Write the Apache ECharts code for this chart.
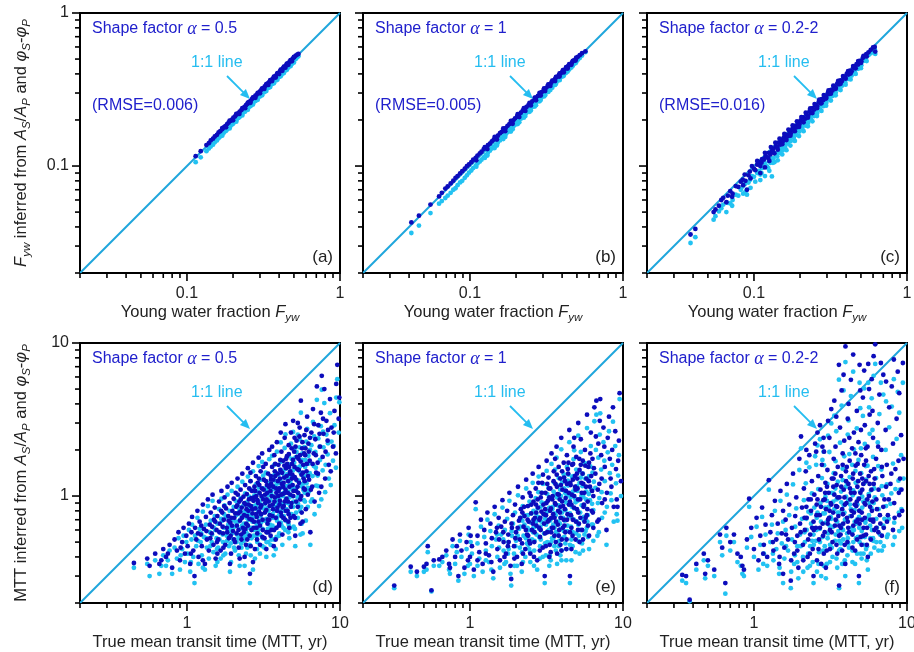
<!DOCTYPE html>
<html><head><meta charset="utf-8">
<script src="https://cdn.jsdelivr.net/npm/echarts/dist/echarts.min.js"></script>
<style>html,body{margin:0;padding:0;background:#fff}#c{width:914px;height:652px}</style>
</head><body><div id="c"></div>
<script>
// ---------------- data ----------------
// each sample: [true value, inferred from A_S/A_P (dark blue), inferred from phi_S-phi_P (cyan)]
const fywRange = [0.02, 1];
const mttRange = [0.2, 10];
const fywMajorTicks = [0.1, 1];
const fywMinorTicks = [0.02,0.03,0.04,0.05,0.06,0.07,0.08,0.09,0.2,0.3,0.4,0.5,0.6,0.7,0.8,0.9];
const mttMajorTicks = [1, 10];
const mttMinorTicks = [0.2,0.3,0.4,0.5,0.6,0.7,0.8,0.9,2,3,4,5,6,7,8,9];
const shapeFactors = ['0.5', '1', '0.2-2'];
const rmseLabels = ['0.006', '0.005', '0.016'];
const panelLetters = [['(a)','(b)','(c)'],['(d)','(e)','(f)']];

const fywAlpha05 = [
[0.114,0.116,0.106],[0.123,0.125,0.114],[0.134,0.137,0.125],[0.139,0.141,0.130],[0.143,0.147,0.134],
[0.148,0.151,0.138],[0.152,0.156,0.143],[0.157,0.160,0.147],[0.161,0.166,0.152],[0.165,0.169,0.156],
[0.170,0.174,0.160],[0.174,0.179,0.165],[0.178,0.182,0.169],[0.183,0.188,0.173],[0.187,0.192,0.178],
[0.192,0.197,0.182],[0.197,0.201,0.187],[0.201,0.207,0.191],[0.206,0.211,0.196],[0.211,0.217,0.201],
[0.216,0.221,0.206],[0.221,0.227,0.211],[0.227,0.232,0.216],[0.232,0.239,0.222],[0.238,0.243,0.227],
[0.243,0.250,0.233],[0.249,0.255,0.238],[0.255,0.262,0.244],[0.261,0.267,0.250],[0.267,0.275,0.256],
[0.273,0.280,0.262],[0.280,0.288,0.268],[0.286,0.293,0.275],[0.293,0.301,0.281],[0.300,0.307,0.288],
[0.307,0.316,0.295],[0.314,0.322,0.302],[0.322,0.331,0.310],[0.329,0.337,0.317],[0.337,0.347,0.325],
[0.345,0.353,0.333],[0.353,0.363,0.341],[0.362,0.370,0.349],[0.370,0.380,0.358],[0.379,0.388,0.366],
[0.388,0.399,0.375],[0.397,0.406,0.385],[0.407,0.418,0.394],[0.416,0.426,0.403],[0.426,0.438,0.413],
[0.436,0.446,0.423],[0.447,0.459,0.434],[0.457,0.468,0.444],[0.468,0.481,0.455],[0.479,0.490,0.466],
[0.491,0.504,0.478],[0.502,0.513,0.489],[0.514,0.527,0.501],[0.526,0.535,0.513],[0.535,0.540,0.522],
[0.170,0.177,0.158],[0.190,0.198,0.176],[0.210,0.219,0.195],[0.230,0.239,0.214],[0.250,0.260,0.233],
[0.270,0.281,0.252],[0.290,0.301,0.271],[0.310,0.322,0.290],[0.330,0.343,0.309],[0.350,0.364,0.328],
[0.370,0.384,0.347],[0.390,0.405,0.366],[0.410,0.426,0.386],[0.430,0.446,0.405],[0.450,0.467,0.425],
[0.475,0.492,0.449],[0.500,0.517,0.474],
[0.180,0.179,0.170],[0.200,0.199,0.189],[0.220,0.219,0.208],[0.240,0.239,0.227],[0.260,0.259,0.246],
[0.280,0.279,0.266],[0.300,0.299,0.285],[0.320,0.319,0.304],[0.340,0.339,0.324],[0.360,0.359,0.343],
[0.380,0.379,0.362],[0.400,0.399,0.382],[0.420,0.419,0.401],[0.440,0.439,0.421],[0.460,0.459,0.440],
[0.485,0.484,0.465]
];
const fywAlpha1 = [
[0.0414,0.0428,0.0365],[0.0464,0.0474,0.0408],[0.0552,0.0560,0.0493],[0.0628,0.0633,0.0568],[0.0655,0.0668,0.0590],
[0.0690,0.0712,0.0618],[0.0715,0.0735,0.0640],[0.0748,0.0770,0.0668],[0.0778,0.0802,0.0700],[0.0805,0.0838,0.0716],
[0.0830,0.0860,0.0750],[0.0862,0.0895,0.0781],[0.0890,0.0925,0.0800],[0.0925,0.0960,0.0838],[0.0955,0.0998,0.0870],
[0.0985,0.1025,0.0905],[0.102,0.106,0.0935],[0.105,0.110,0.0970],[0.109,0.113,0.1005],[0.112,0.117,0.104],
[0.116,0.121,0.107],[0.119,0.124,0.110],[0.123,0.129,0.114],[0.127,0.132,0.118],[0.131,0.137,0.122],
[0.135,0.140,0.126],[0.139,0.145,0.130],[0.143,0.149,0.134],[0.148,0.154,0.138],[0.152,0.158,0.142],
[0.157,0.164,0.147],[0.161,0.167,0.151],[0.166,0.173,0.156],[0.171,0.177,0.161],[0.176,0.183,0.166],
[0.181,0.188,0.170],[0.186,0.194,0.176],[0.192,0.199,0.181],[0.197,0.205,0.186],[0.203,0.210,0.192],
[0.209,0.217,0.198],[0.215,0.223,0.204],[0.221,0.230,0.210],[0.228,0.236,0.216],[0.234,0.243,0.223],
[0.241,0.250,0.229],[0.248,0.257,0.236],[0.255,0.264,0.243],[0.263,0.272,0.251],[0.270,0.280,0.258],
[0.278,0.287,0.266],[0.286,0.296,0.274],[0.294,0.304,0.282],[0.303,0.313,0.291],[0.312,0.322,0.300],
[0.321,0.331,0.309],[0.330,0.341,0.318],[0.340,0.350,0.328],[0.350,0.361,0.338],[0.360,0.371,0.348],
[0.370,0.382,0.358],[0.381,0.392,0.369],[0.392,0.404,0.380],[0.403,0.414,0.391],[0.415,0.427,0.403],
[0.427,0.438,0.415],[0.439,0.451,0.427],[0.452,0.463,0.440],[0.465,0.476,0.453],[0.479,0.490,0.466],
[0.493,0.503,0.480],[0.507,0.517,0.494],[0.522,0.530,0.508],[0.540,0.546,0.527],[0.568,0.562,0.555],
[0.125,0.133,0.113],[0.145,0.155,0.131],[0.165,0.176,0.150],[0.185,0.197,0.168],[0.205,0.218,0.188],
[0.225,0.239,0.207],[0.245,0.259,0.226],[0.265,0.280,0.245],[0.285,0.301,0.265],[0.305,0.321,0.285],
[0.325,0.342,0.305],[0.345,0.362,0.325],[0.365,0.383,0.345],[0.385,0.403,0.366],[0.405,0.423,0.386],
[0.425,0.443,0.407],[0.445,0.463,0.428],[0.470,0.487,0.452],[0.495,0.511,0.478],
[0.110,0.109,0.099],[0.130,0.129,0.117],[0.150,0.149,0.136],[0.170,0.169,0.155],[0.190,0.189,0.174],
[0.210,0.209,0.193],[0.230,0.229,0.212],[0.250,0.249,0.231],[0.270,0.269,0.250],[0.290,0.289,0.270],
[0.310,0.309,0.290],[0.335,0.334,0.314],[0.360,0.359,0.339],[0.385,0.384,0.364],[0.410,0.409,0.389],
[0.435,0.434,0.414],[0.460,0.459,0.440],[0.490,0.489,0.470]
];
const fywAlpha02to2 = [
[0.0385,0.0357,0.0314],[0.0414,0.0388,0.0343],[0.0545,0.0500,0.0446],[0.0560,0.0520,0.0470],[0.0590,0.0550,0.0505],
[0.0612,0.0600,0.0530],[0.0630,0.0620,0.0560],[0.0675,0.0640,0.0575],[0.0700,0.0685,0.0570],[0.0725,0.0660,0.0600],
[0.0760,0.0740,0.0650],[0.0790,0.0730,0.0640],[0.0820,0.0790,0.0700],[0.0845,0.0815,0.0735],[0.0870,0.0880,0.0760],
[0.0880,0.0800,0.0680],[0.0900,0.0700,0.0650],[0.0920,0.0870,0.0780],[0.0940,0.0920,0.0810],[0.0970,0.1000,0.0860],
[0.1000,0.0960,0.0850],[0.1020,0.0940,0.0790],[0.1050,0.1020,0.0900],[0.1080,0.1060,0.0930],[0.1100,0.1000,0.0880],
[0.1130,0.1110,0.0970],[0.1160,0.1100,0.0990],[0.1190,0.1160,0.1010],[0.1220,0.1140,0.0990],[0.1250,0.1220,0.1080],
[0.1280,0.1190,0.1050],[0.1310,0.1250,0.0855],[0.1340,0.1300,0.1120],[0.1360,0.1210,0.1060],[0.1390,0.1350,0.1180],
[0.1420,0.1320,0.1160],[0.1450,0.1420,0.1240],[0.1480,0.1380,0.1220],[0.1510,0.1470,0.1300],[0.1540,0.1440,0.1270],
[0.1570,0.1540,0.1350],[0.1600,0.1500,0.1330],[0.1640,0.1600,0.1420],[0.1670,0.1570,0.1400],[0.1710,0.1680,0.1490],
[0.1740,0.1640,0.1460],[0.1780,0.1740,0.1560],[0.1820,0.1720,0.1530],[0.1860,0.1830,0.1640],[0.1900,0.1790,0.1600],
[0.1940,0.1910,0.1710],[0.1980,0.1870,0.1680],[0.2020,0.1990,0.1790],[0.2070,0.1950,0.1750],[0.2110,0.2080,0.1870],
[0.2160,0.2040,0.1840],[0.2210,0.2180,0.1960],[0.2260,0.2130,0.1920],[0.2310,0.2280,0.2060],[0.2360,0.2230,0.2020],
[0.2420,0.2390,0.2170],[0.2470,0.2340,0.2120],[0.2530,0.2500,0.2280],[0.2590,0.2450,0.2220],[0.2650,0.2620,0.2390],
[0.2710,0.2570,0.2340],[0.2770,0.2740,0.2510],[0.2840,0.2700,0.2460],[0.2900,0.2870,0.2640],[0.2970,0.2830,0.2590],
[0.3040,0.3000,0.2780],[0.3110,0.2960,0.2720],[0.3190,0.3150,0.2920],[0.3260,0.3110,0.2870],[0.3340,0.3300,0.3070],
[0.3420,0.3260,0.3020],[0.3500,0.3460,0.3230],[0.3590,0.3420,0.3180],[0.3670,0.3630,0.3400],[0.3760,0.3590,0.3350],
[0.3850,0.3810,0.3570],[0.3950,0.3770,0.3520],[0.4040,0.4000,0.3760],[0.4140,0.3960,0.3710],[0.4240,0.4200,0.3950],
[0.4350,0.4160,0.3900],[0.4450,0.4410,0.4160],[0.4560,0.4370,0.4110],[0.4680,0.4630,0.4380],[0.4790,0.4600,0.4320],
[0.4910,0.4870,0.4610],[0.5030,0.4830,0.4560],[0.5150,0.5100,0.4850],[0.5280,0.5220,0.4980],[0.5420,0.5380,0.5150],
[0.5600,0.5530,0.5300],[0.6150,0.6000,0.5800],[0.6200,0.5600,0.5400],
[0.105,0.108,0.092],[0.112,0.105,0.090],[0.118,0.122,0.104],[0.124,0.113,0.097],[0.129,0.133,0.112],
[0.133,0.124,0.105],[0.138,0.142,0.121],[0.143,0.128,0.109],[0.147,0.151,0.130],[0.153,0.139,0.119],
[0.158,0.162,0.140],[0.163,0.148,0.127],[0.168,0.173,0.150],[0.173,0.158,0.136],[0.179,0.184,0.160],
[0.185,0.169,0.146],[0.191,0.196,0.171],[0.197,0.180,0.157],[0.204,0.209,0.183],[0.211,0.193,0.169],
[0.218,0.223,0.196],[0.225,0.207,0.182],[0.233,0.238,0.210],[0.241,0.222,0.196],[0.249,0.254,0.226],
[0.258,0.239,0.212],[0.267,0.272,0.243],[0.276,0.257,0.229],[0.286,0.291,0.262],[0.296,0.276,0.248],
[0.307,0.312,0.282],[0.318,0.297,0.268],[0.330,0.335,0.304],[0.342,0.320,0.290],[0.355,0.360,0.328],
[0.368,0.345,0.314],[0.382,0.387,0.354],[0.397,0.372,0.340],[0.412,0.417,0.382],[0.428,0.402,0.368],
[0.445,0.450,0.414],[0.462,0.435,0.400],[0.480,0.485,0.448],[0.500,0.472,0.436],[0.520,0.525,0.488],
[0.545,0.520,0.485],[0.580,0.575,0.545],[0.600,0.595,0.560],
[0.085,0.075,0.066],[0.095,0.083,0.072],[0.118,0.098,0.086],[0.126,0.108,0.093],[0.072,0.063,0.055],
[0.066,0.058,0.050],[0.110,0.090,0.081]
];
const mttAlpha05 = [
[0.45,0.365,0.34],[0.55,0.39,0.36],[0.57,0.35,0.30],[0.62,0.42,0.38],[0.66,0.36,0.31],[0.70,0.45,0.41],[0.73,0.40,0.35],
[0.77,0.48,0.44],[0.80,0.34,0.31],[0.83,0.52,0.46],[0.86,0.44,0.39],[0.88,0.58,0.53],[0.90,0.38,0.33],[0.93,0.50,0.45],
[0.95,0.62,0.55],[0.97,0.42,0.37],[0.99,0.55,0.50],
[1.01,0.47,0.42],[1.03,0.66,0.60],[1.05,0.36,0.32],[1.07,0.58,0.52],[1.08,0.73,0.65],[1.10,0.44,0.40],[1.12,0.30,0.27],
[1.13,0.62,0.55],[1.15,0.52,0.47],[1.17,0.80,0.72],[1.19,0.40,0.36],[1.21,0.68,0.61],[1.23,0.56,0.50],[1.25,0.47,0.41],
[1.27,0.88,0.79],[1.29,0.61,0.54],[1.31,0.36,0.33],[1.33,0.73,0.65],[1.35,0.52,0.46],[1.37,0.95,0.86],[1.39,0.44,0.39],
[1.41,0.65,0.58],[1.43,0.78,0.69],[1.45,0.57,0.50],[1.47,1.02,0.93],[1.49,0.48,0.43],[1.50,0.70,0.62],
[1.52,0.84,0.74],[1.54,0.39,0.35],[1.56,0.60,0.53],[1.58,0.74,0.66],[1.60,0.52,0.46],[1.62,0.92,0.82],[1.64,0.66,0.58],
[1.66,0.44,0.39],[1.68,1.08,0.96],[1.70,0.78,0.69],[1.72,0.57,0.50],[1.74,0.70,0.62],[1.76,0.98,0.87],[1.78,0.48,0.42],
[1.80,0.83,0.73],[1.82,0.62,0.55],[1.84,1.15,1.02],[1.86,0.74,0.65],[1.88,0.53,0.47],[1.90,0.90,0.80],[1.92,0.67,0.59],
[1.94,0.42,0.37],[1.96,1.22,1.08],[1.98,0.80,0.70],[2.00,0.59,0.52],[2.02,0.96,0.85],[2.04,0.72,0.63],[2.06,0.50,0.44],
[2.08,1.05,0.93],[2.10,0.85,0.75],[2.12,0.64,0.56],[2.14,1.30,1.15],[2.16,0.77,0.68],[2.18,0.46,0.41],[2.20,0.92,0.81],
[2.22,0.69,0.61],[2.24,1.10,0.97],[2.26,0.56,0.49],[2.28,0.84,0.74],[2.30,1.40,1.24],[2.32,0.62,0.55],[2.34,0.99,0.87],
[2.36,0.75,0.66],[2.38,0.40,0.35],[2.40,1.18,1.04],[2.42,0.88,0.77],[2.44,0.66,0.58],[2.46,1.03,0.91],[2.48,0.52,0.46],
[2.50,1.52,1.34],[2.52,0.80,0.70],[2.54,0.95,0.84],[2.56,0.71,0.62],[2.58,0.31,0.27],[2.60,1.25,1.10],[2.62,0.86,0.76],
[2.64,0.60,0.53],[2.66,1.08,0.95],[2.68,0.77,0.68],[2.70,1.65,1.45],[2.72,0.93,0.82],[2.74,0.68,0.60],[2.76,1.15,1.01],
[2.78,0.45,0.39],[2.80,0.83,0.73],[2.82,1.35,1.19],[2.84,1.00,0.88],[2.86,0.73,0.64],[2.88,0.57,0.50],[2.90,1.22,1.07],
[2.92,0.90,0.79],[2.94,1.78,1.57],[2.96,0.79,0.69],[2.98,1.05,0.92],[3.00,0.64,0.56],[3.03,1.45,1.28],[3.06,0.87,0.76],
[3.09,1.12,0.98],[3.12,0.70,0.61],[3.15,0.95,0.83],[3.18,1.28,1.12],
[3.21,0.53,0.46],[3.24,1.02,0.89],[3.27,1.62,1.42],[3.30,0.81,0.71],[3.33,1.18,1.03],[3.36,0.66,0.58],[3.39,1.40,1.22],
[3.42,0.92,0.80],[3.45,2.00,1.74],[3.48,0.75,0.65],[3.51,1.08,0.94],[3.54,1.28,1.11],[3.57,0.60,0.52],[3.60,1.55,1.35],
[3.63,0.88,0.76],[3.66,1.15,1.00],[3.69,0.47,0.41],[3.72,1.85,1.60],[3.75,0.98,0.85],[3.78,1.35,1.17],[3.81,0.72,0.62],
[3.84,1.05,0.91],[3.87,2.25,1.95],[3.90,0.84,0.73],[3.93,1.25,1.08],[3.96,1.60,1.38],[3.99,0.64,0.55],[4.02,1.12,0.97],
[4.05,0.93,0.80],[4.08,1.48,1.28],[4.11,0.78,0.67],[4.14,1.95,1.68],[4.17,1.20,1.03],[4.20,0.56,0.48],[4.23,1.03,0.89],
[4.26,1.70,1.46],[4.29,0.86,0.74],[4.32,1.32,1.13],[4.35,2.40,2.06],[4.38,0.70,0.60],[4.41,1.10,0.94],[4.44,1.52,1.30],
[4.47,0.96,0.82],
[4.50,1.82,1.55],[4.54,0.80,0.68],[4.58,1.25,1.07],[4.62,2.15,1.83],[4.66,0.62,0.53],[4.70,1.40,1.19],[4.74,1.02,0.87],
[4.78,2.60,2.20],[4.82,0.90,0.76],[4.86,1.62,1.37],[4.90,1.18,1.00],[4.94,3.10,2.62],[4.98,0.74,0.63],[5.02,1.95,1.65],
[5.06,1.33,1.12],[5.10,0.55,0.47],[5.15,1.08,0.91],[5.20,2.30,1.94],[5.25,1.50,1.26],[5.30,0.85,0.72],[5.35,1.75,1.47],
[5.40,1.22,1.02],[5.45,2.80,2.35],[5.50,0.95,0.80],[5.55,4.20,3.50],[5.60,1.38,1.16],[5.65,2.05,1.72],[5.70,0.68,0.57],
[5.75,1.60,1.34],[5.80,1.12,0.94],[5.86,2.50,2.09],[5.92,1.85,1.55],[5.98,0.82,0.69],[6.04,1.45,1.21],[6.10,3.30,2.75],
[6.16,1.02,0.85],[6.22,2.20,1.83],[6.28,1.28,1.07],[6.34,1.70,1.41],[6.40,0.58,0.48],
[6.50,2.60,2.15],[6.58,1.15,0.95],[6.66,3.70,3.05],[6.74,1.90,1.57],[6.82,0.92,0.76],[6.90,2.35,1.94],[6.98,1.42,1.17],
[7.06,5.20,4.25],[7.14,1.65,1.36],[7.22,2.90,2.38],[7.30,1.05,0.86],[7.40,2.10,1.72],[7.50,3.50,2.86],[7.60,6.10,4.95],
[7.70,1.80,1.47],[7.80,2.55,2.08],[7.90,5.00,4.05],[8.00,1.30,1.06],[8.15,3.10,2.52],[8.30,2.30,1.87],[8.45,1.60,1.30],
[8.60,4.30,3.48],[8.80,2.80,2.27],[9.00,2.10,1.70],[9.20,3.60,2.90],[9.40,1.90,1.53],[9.60,7.20,5.80],[9.80,3.20,2.60],
[9.90,4.40,4.10],
[2.25,0.95,0.84],[2.35,0.58,0.51],[2.45,0.82,0.72],[2.55,1.12,0.99],[2.65,0.70,0.62],[2.75,0.98,0.86],[2.85,0.62,0.55],
[2.95,1.30,1.14],[3.05,0.76,0.67],[3.15,1.55,1.36],[3.25,0.90,0.79],[3.35,1.05,0.92],[3.45,0.70,0.61],[3.55,1.20,1.05],
[3.65,0.82,0.72],[3.75,1.45,1.26],[3.85,0.62,0.54],[3.95,1.00,0.87],[4.05,1.30,1.13],[4.15,0.74,0.64],[4.25,1.15,1.00],
[4.35,0.92,0.80],[4.45,1.75,1.51],[4.55,1.05,0.90],[4.65,1.55,1.33],[4.75,0.72,0.62],[4.85,1.30,1.11],[4.95,1.00,0.85],
[5.05,2.40,2.04],[5.18,1.28,1.08],[5.32,1.05,0.89],[5.48,1.85,1.56],[5.62,0.78,0.66],[5.78,1.30,1.09],[5.95,2.05,1.72],
[3.10,1.90,1.67],[3.60,2.10,1.83],[4.10,2.60,2.24],[2.60,1.42,1.25],[2.15,1.02,0.90],[1.95,0.72,0.63],[1.75,0.86,0.76],
[3.40,0.58,0.50],[4.60,0.68,0.58],[3.80,0.52,0.45],[5.30,3.00,2.52],[4.40,2.95,2.53],[3.00,0.48,0.42],[2.50,0.64,0.56],
[5.90,1.10,0.92],
[1.63,0.58,0.52],[1.71,0.63,0.56],[1.87,0.69,0.61],[1.93,0.55,0.49],[2.07,0.77,0.68],[2.13,0.87,0.77],[2.17,0.60,0.53],
[2.23,0.79,0.70],[2.29,0.72,0.64],[2.37,0.90,0.79],[2.41,0.61,0.54],[2.47,0.74,0.65],[2.53,0.88,0.78],[2.57,0.55,0.48],
[2.63,0.97,0.86],[2.67,0.82,0.72],[2.73,0.62,0.55],[2.79,1.08,0.95],[2.83,0.76,0.67],[2.89,0.94,0.83],[2.93,0.68,0.60],
[2.97,1.18,1.04],[3.02,0.84,0.74],[3.07,1.00,0.88],[3.13,0.60,0.53],[3.17,1.10,0.97],[3.23,0.78,0.69],[3.28,1.25,1.10],
[3.32,0.95,0.83],[3.37,0.70,0.61],[3.43,1.15,1.01],[3.47,0.86,0.75],[3.53,1.35,1.18],[3.58,1.00,0.87],[3.62,0.74,0.64],
[3.67,1.28,1.11],[3.73,0.92,0.80],[3.77,1.62,1.41],[3.83,1.12,0.97],[3.88,0.80,0.69],[3.92,1.40,1.21],[3.97,1.08,0.93],
[4.03,0.88,0.76],[4.07,1.72,1.48],[4.13,1.02,0.88],[4.18,1.42,1.22],[4.22,0.84,0.72],[4.28,1.22,1.05],[4.33,1.58,1.36],
[4.37,1.05,0.90],[4.43,0.80,0.69],[4.48,1.35,1.16],[4.52,1.62,1.39],[4.57,0.92,0.79],[4.63,1.88,1.61],[4.68,1.15,0.98],
[4.73,1.45,1.24],[4.78,0.85,0.73],[4.83,2.05,1.75],[4.88,1.38,1.18],[4.93,1.72,1.47],[4.97,1.08,0.92],[5.04,1.55,1.32],
[5.12,2.10,1.79],[5.17,0.92,0.78],[5.23,1.80,1.53],[5.28,1.15,0.98],[5.38,1.48,1.26],[5.43,2.45,2.08],[5.53,1.68,1.42],
[5.58,1.00,0.85],[5.68,2.25,1.90],[5.73,1.42,1.20],[5.83,1.90,1.60],[5.88,1.25,1.05],[6.02,2.70,2.27],[6.07,1.62,1.36],
[6.19,1.35,1.13],[6.25,1.95,1.63],[6.37,2.40,2.00],[6.45,1.10,0.92],[6.62,1.62,1.35],[6.78,2.95,2.45],[6.95,1.85,1.53],
[7.18,1.40,1.16],[7.35,2.55,2.10],[7.55,1.15,0.95],[7.75,3.20,2.63],[8.05,1.95,1.60],[8.35,2.70,2.21],[8.70,1.45,1.18],
[9.10,2.60,2.12],[9.45,5.40,4.40],
[1.18,0.57,0.51],[1.24,0.64,0.57],[1.34,0.59,0.53],[1.42,0.53,0.47],[1.46,0.63,0.56],[1.53,0.68,0.60],[1.57,0.50,0.45],
[1.67,0.80,0.71],[1.73,0.46,0.41],[1.83,0.58,0.51],[1.97,0.64,0.57],[2.03,0.52,0.46],[2.11,0.57,0.50],[2.27,0.52,0.46],
[2.43,0.48,0.42],[2.61,0.47,0.41],[2.87,0.52,0.45],[3.11,0.54,0.47],[3.31,0.58,0.50],[3.52,0.55,0.48],[3.71,0.60,0.52],
[4.01,0.66,0.57],[4.27,0.72,0.62],[4.62,0.76,0.65],[5.08,0.72,0.61],[5.52,0.66,0.56],[0.68,0.38,0.35],[0.75,0.42,0.38],
[0.91,0.46,0.41],[1.06,0.42,0.37],[1.27,0.38,0.34],[1.58,0.42,0.37],[1.91,0.36,0.32],[2.21,0.39,0.35],[2.70,0.37,0.33],
[3.30,0.45,0.40]
];
const mttAlpha1 = [
[0.32,0.26,0.25],[0.41,0.345,0.32],[0.45,0.32,0.30],[0.50,0.345,0.32],[0.52,0.36,0.33],[0.53,0.47,0.43],[0.56,0.242,0.238],
[0.58,0.38,0.35],[0.63,0.385,0.35],[0.70,0.44,0.41],[0.73,0.36,0.33],[0.77,0.52,0.47],[0.80,0.40,0.36],[0.84,0.30,0.28],
[0.86,0.56,0.51],[0.88,0.44,0.40],[0.92,0.34,0.31],[0.95,0.50,0.45],[0.98,0.62,0.56],[1.00,0.40,0.36],[1.03,0.47,0.42],
[1.06,0.33,0.30],[1.09,0.91,0.82],[1.12,0.55,0.49],[1.15,0.43,0.39],[1.18,0.70,0.63],[1.21,0.36,0.32],[1.24,0.60,0.54],
[1.27,0.49,0.44],[1.30,0.78,0.70],[1.33,0.41,0.37],[1.36,0.66,0.59],[1.39,0.53,0.47],[1.42,0.32,0.29],[1.45,0.85,0.76],
[1.48,0.58,0.52],[1.51,0.45,0.40],[1.54,0.72,0.64],[1.57,0.38,0.34],[1.60,0.63,0.56],[1.63,0.94,0.84],[1.66,0.50,0.44],
[1.69,0.68,0.60],[1.72,0.42,0.37],[1.75,0.80,0.71],[1.78,0.56,0.50],[1.81,1.05,0.93],[1.84,0.35,0.31],[1.86,0.287,0.26],
[1.88,0.62,0.55],[1.91,0.75,0.66],[1.94,0.47,0.42],[1.97,0.88,0.78],[2.00,0.58,0.51],[2.03,0.40,0.35],[2.06,1.15,1.01],
[2.09,0.69,0.61],[2.12,0.52,0.46],[2.15,0.82,0.72],[2.18,0.36,0.32],[2.21,0.98,0.86],[2.24,0.63,0.55],[2.27,0.74,0.65],
[2.30,0.45,0.40],[2.33,1.28,1.12],[2.36,0.56,0.49],[2.39,0.86,0.75],[2.42,0.68,0.60],[2.45,1.05,0.92],[2.48,0.42,0.37],
[2.51,0.77,0.67],[2.54,0.60,0.52],[2.57,1.40,1.22],[2.60,0.92,0.80],[2.63,0.50,0.44],[2.66,0.72,0.63],[2.69,1.12,0.97],
[2.72,0.64,0.56],[2.75,0.38,0.33],[2.78,0.84,0.73],[2.81,1.55,1.34],[2.84,0.70,0.61],[2.87,0.54,0.47],[2.90,0.98,0.85],
[2.93,0.79,0.68],[2.96,1.22,1.05],[2.99,0.46,0.40],[3.02,0.88,0.76],[3.05,0.66,0.57],[3.08,0.30,0.27],[3.11,1.05,0.90],
[3.14,0.75,0.65],[3.17,1.70,1.46],[3.20,0.58,0.50],[3.23,0.93,0.80],[3.26,1.32,1.13],[3.29,0.70,0.60],[3.32,0.48,0.41],
[3.35,1.12,0.96],[3.38,0.83,0.71],[3.41,1.90,1.62],[3.44,0.62,0.53],[3.47,1.00,0.85],[3.50,0.76,0.65],[3.53,1.45,1.23],
[3.56,0.55,0.47],[3.59,0.90,0.77],[3.62,1.20,1.02],[3.65,0.68,0.58],[3.68,2.10,1.78],[3.71,0.42,0.36],[3.74,1.03,0.87],
[3.77,0.80,0.68],[3.80,1.55,1.31],[3.83,0.60,0.51],[3.86,0.95,0.80],[3.89,1.30,1.10],[3.92,0.72,0.61],[3.95,2.40,2.02],
[3.98,0.52,0.44],[4.02,1.10,0.93],[4.06,0.86,0.72],[4.10,1.65,1.39],[4.14,0.64,0.54],[4.18,1.25,1.05],[4.22,0.97,0.81],
[4.26,0.45,0.38],[4.30,1.85,1.55],[4.34,0.76,0.64],[4.38,1.40,1.17],[4.42,1.05,0.88],[4.46,2.70,2.25],[4.50,0.58,0.48],
[4.50,0.30,0.27],[4.55,1.18,0.98],[4.60,0.88,0.73],[4.65,1.60,1.33],[4.70,0.70,0.58],[4.75,2.10,1.74],[4.80,1.00,0.83],
[4.85,1.35,1.12],[4.90,0.52,0.43],[4.95,1.80,1.49],[5.00,0.82,0.68],[5.05,1.12,0.93],[5.10,3.00,2.48],[5.15,0.66,0.55],
[5.20,1.48,1.22],[5.25,0.95,0.78],[5.30,2.35,1.94],[5.35,1.22,1.00],[5.40,0.60,0.49],[5.46,1.70,1.40],[5.52,0.85,0.70],
[5.58,1.05,0.86],[5.64,2.00,1.64],[5.70,0.72,0.59],[5.76,1.30,1.07],[5.82,3.40,2.78],[5.88,0.92,0.75],[5.94,1.55,1.27],
[6.00,0.55,0.45],[6.08,1.15,0.94],[6.16,2.60,2.12],[6.24,0.80,0.65],[6.32,1.75,1.42],[6.40,1.00,0.81],[6.50,3.80,3.08],
[6.60,1.40,1.13],[6.70,4.20,3.40],[6.80,0.68,0.55],[6.90,2.20,1.78],[7.00,1.20,0.97],[7.10,4.30,3.47],[7.20,1.85,1.49],
[7.30,0.90,0.72],[7.45,2.80,2.25],[7.60,1.55,1.25],[7.80,0.60,0.48],[7.95,2.40,1.93],[8.10,3.30,2.65],[8.30,1.30,1.04],
[8.50,2.00,1.60],[8.70,0.85,0.68],[8.90,2.65,2.12],[9.10,0.95,0.76],[9.30,1.70,1.36],[9.50,4.70,4.30],[9.70,1.25,1.00],
[2.70,0.88,0.77],[2.90,0.60,0.52],[3.10,0.82,0.71],[3.30,0.98,0.84],[3.50,0.62,0.53],[3.70,1.15,0.98],[3.90,0.85,0.72],
[4.10,0.70,0.59],[4.30,1.20,1.01],[4.50,0.92,0.77],[4.70,1.28,1.07],[4.90,1.10,0.91],[5.10,0.78,0.65],[5.30,1.60,1.32],
[5.50,1.20,0.99],[3.20,1.20,1.03],[3.60,1.75,1.49],[4.00,1.45,1.23],[4.40,1.65,1.38],[4.80,2.40,1.99],[2.50,1.00,0.88],
[2.80,1.22,1.06],[3.40,0.72,0.62],[3.80,0.55,0.47],[4.20,0.58,0.49],[4.60,0.62,0.52],[5.00,1.40,1.16],[5.60,0.68,0.56],
[6.00,1.65,1.35],[6.20,1.35,1.10],[2.20,0.78,0.69],[2.40,0.55,0.48],[2.60,0.70,0.62],[3.00,1.38,1.20],[3.30,0.40,0.35],
[3.90,0.48,0.41],[4.60,0.45,0.38],[5.20,0.50,0.42],[5.80,0.75,0.62],[6.40,0.62,0.51],
[1.55,0.52,0.46],[1.65,0.58,0.52],[1.77,0.47,0.42],[1.87,0.66,0.59],[1.98,0.53,0.47],[2.05,0.62,0.55],[2.13,0.72,0.63],
[2.19,0.49,0.43],[2.26,0.85,0.75],[2.32,0.60,0.53],[2.38,0.70,0.62],[2.44,0.51,0.45],[2.52,0.88,0.77],[2.58,0.66,0.58],
[2.64,0.58,0.51],[2.71,0.78,0.68],[2.77,0.95,0.83],[2.83,0.62,0.54],[2.88,0.72,0.63],[2.94,1.05,0.91],[3.04,0.76,0.66],
[3.09,0.57,0.49],[3.16,0.90,0.78],[3.22,0.68,0.59],[3.28,1.12,0.97],[3.34,0.80,0.69],[3.39,0.58,0.50],[3.45,0.95,0.82],
[3.52,1.25,1.07],[3.57,0.72,0.62],[3.63,0.88,0.75],[3.69,1.38,1.18],[3.75,0.65,0.56],[3.81,1.02,0.87],[3.87,0.78,0.66],
[3.93,1.18,1.00],[4.00,0.92,0.78],[4.05,0.62,0.53],[4.12,1.32,1.12],[4.17,0.82,0.69],[4.24,1.08,0.91],[4.31,0.70,0.59],
[4.36,1.50,1.26],[4.44,0.88,0.74],[4.52,1.22,1.02],[4.57,0.75,0.63],[4.63,1.02,0.85],[4.72,1.62,1.35],[4.78,0.84,0.70],
[4.87,1.15,0.96],[4.93,0.68,0.57],[5.02,1.30,1.08],[5.08,0.95,0.79],[5.18,1.75,1.45],[5.27,0.72,0.60],[5.37,1.05,0.87],
[5.44,1.40,1.16],[5.55,0.88,0.73],[5.67,1.58,1.30],[5.73,1.15,0.95],[5.85,0.82,0.68],[5.98,1.25,1.03],[6.12,1.90,1.56],
[6.28,1.08,0.89],[6.45,1.52,1.24],[6.65,2.45,2.00],[6.85,1.10,0.90],[7.05,3.10,2.52],[7.25,1.30,1.06],[7.55,2.10,1.70],
[7.85,1.05,0.85],[8.20,1.75,1.41],[8.60,3.80,3.06],[9.00,1.50,1.21],[9.40,2.30,1.85],
[1.12,0.38,0.35],[1.27,0.42,0.38],[1.38,0.37,0.33],[1.50,0.62,0.56],[1.68,0.40,0.36],[1.79,0.50,0.45],[1.95,0.39,0.35],
[2.22,0.42,0.37],[2.47,0.49,0.43],[2.62,0.40,0.35],[2.86,0.44,0.39],[3.13,0.47,0.41],[3.37,0.43,0.38],[3.64,0.50,0.44],
[3.96,0.44,0.38],[4.28,0.52,0.45],[4.68,0.55,0.47],[5.08,0.60,0.51],[5.48,0.52,0.44],[5.90,0.64,0.54],[6.35,0.78,0.65],
[6.95,0.70,0.58],[7.60,0.95,0.78],[8.40,1.15,0.94],[9.20,0.85,0.69],[0.66,0.40,0.37],[0.74,0.34,0.31],[0.82,0.47,0.43],
[0.97,0.38,0.35],[1.01,0.55,0.50]
];
const mttAlpha02to2 = [
[0.34,0.305,0.28],[0.36,0.30,0.27],[0.38,0.21,0.205],[0.42,0.36,0.33],[0.47,0.42,0.38],[0.48,0.31,0.29],[0.50,0.38,0.35],
[0.55,0.33,0.30],[0.60,0.56,0.50],[0.62,0.46,0.41],[0.65,0.27,0.23],[0.66,0.62,0.55],[0.70,0.50,0.44],[0.74,0.56,0.50],
[0.78,0.42,0.37],[0.82,0.40,0.35],[0.84,0.35,0.31],[0.86,0.33,0.30],[0.90,0.52,0.46],[0.93,0.96,0.85],[0.96,0.62,0.54],
[1.00,0.45,0.40],[1.04,0.72,0.63],[1.07,0.38,0.33],[1.10,0.55,0.48],[1.13,0.84,0.73],[1.16,0.48,0.42],[1.19,0.65,0.56],
[1.22,0.40,0.35],[1.25,1.27,1.10],[1.28,0.58,0.50],[1.31,0.75,0.65],[1.34,0.44,0.38],[1.37,0.93,0.80],[1.40,0.52,0.45],
[1.43,0.66,0.57],[1.46,0.36,0.31],[1.49,1.08,0.93],[1.52,0.57,0.49],[1.55,0.80,0.68],[1.58,0.46,0.39],[1.61,0.70,0.60],
[1.64,1.20,1.02],[1.67,0.52,0.44],[1.70,0.88,0.75],[1.74,0.28,0.25],[1.77,0.62,0.52],[1.80,1.40,1.19],[1.83,0.42,0.36],
[1.86,0.74,0.63],[1.89,0.98,0.83],[1.92,0.55,0.47],[1.95,0.34,0.29],[1.98,1.75,1.48],[2.00,0.66,0.56],[2.03,2.45,2.05],
[2.06,0.84,0.71],[2.09,0.48,0.40],[2.12,1.12,0.94],[2.15,0.60,0.50],[2.18,1.45,1.21],[2.21,0.72,0.60],[2.24,0.40,0.34],
[2.27,0.95,0.79],[2.30,1.85,1.54],[2.33,0.56,0.47],[2.36,0.80,0.66],[2.39,1.25,1.04],[2.42,0.45,0.37],[2.45,0.68,0.56],
[2.48,1.02,0.84],[2.51,2.20,1.82],[2.54,0.62,0.51],[2.57,0.88,0.72],[2.60,2.60,2.14],[2.63,1.35,1.11],[2.66,0.52,0.43],
[2.69,0.75,0.61],[2.72,1.10,0.90],[2.75,0.36,0.30],[2.78,1.60,1.31],[2.81,0.66,0.54],[2.84,0.94,0.77],[2.87,1.95,1.59],
[2.90,0.58,0.47],[2.93,1.22,0.99],[2.96,0.82,0.67],[2.99,0.44,0.36],[3.02,1.48,1.20],[3.05,0.70,0.57],[3.08,1.05,0.85],
[3.11,2.40,1.94],[3.14,0.60,0.48],[3.17,0.90,0.73],[3.20,3.70,2.98],[3.23,1.30,1.05],[3.26,0.50,0.40],[3.29,0.78,0.63],
[3.32,1.75,1.41],[3.35,1.02,0.82],[3.38,0.64,0.51],[3.41,2.10,1.69],[3.44,0.86,0.69],[3.47,1.18,0.95],[3.50,0.42,0.34],
[3.53,1.55,1.24],[3.56,0.74,0.59],[3.59,7.20,5.76],[3.60,0.26,0.25],[3.62,0.98,0.78],[3.65,2.80,2.23],[3.68,0.56,0.45],
[3.71,1.35,1.07],[3.74,4.90,3.90],[3.77,0.82,0.65],[3.80,1.90,1.51],[3.83,0.66,0.52],[3.86,1.10,0.87],[3.89,2.30,1.82],
[3.92,0.48,0.38],[3.96,9.50,7.50],[3.99,1.45,1.15],[4.02,0.90,0.71],[4.06,0.72,0.57],[4.10,3.20,2.52],[4.14,1.20,0.94],
[4.18,0.58,0.46],[4.22,1.70,1.33],[4.26,0.95,0.74],[4.30,5.75,4.50],[4.34,0.80,0.62],[4.38,2.05,1.60],[4.42,1.30,1.01],
[4.46,0.64,0.50],[4.50,2.60,2.02],[4.54,1.05,0.81],[4.58,0.44,0.36],[4.62,1.58,1.22],[4.66,0.86,0.66],[4.70,3.60,2.77],
[4.74,1.15,0.88],[4.78,0.70,0.54],[4.82,2.25,1.72],[4.86,0.96,0.73],[4.90,7.20,5.50],[4.94,1.40,1.07],[4.98,0.54,0.42],
[5.02,1.85,1.41],[5.06,0.78,0.59],[5.10,1.10,0.84],[5.15,4.40,3.34],[5.20,0.62,0.48],[5.25,1.60,1.21],[5.30,2.90,2.19],
[5.35,0.88,0.67],[5.40,1.25,0.94],[5.46,0.48,0.38],[5.52,2.10,1.58],[5.58,7.30,5.50],[5.64,1.00,0.75],[5.70,3.40,2.55],
[5.76,0.70,0.53],[5.82,1.45,1.09],[5.88,5.80,4.35],[5.94,0.92,0.69],[6.00,2.40,1.80],[6.06,1.20,0.90],[6.12,0.60,0.46],
[6.20,9.80,7.30],[6.28,1.75,1.31],[6.36,0.82,0.62],[6.44,3.00,2.24],[6.52,1.10,0.82],[6.60,4.60,3.43],[6.70,0.66,0.50],
[6.80,2.00,1.49],[6.90,1.35,1.01],[7.00,6.20,4.60],[7.12,0.95,0.71],[7.25,2.70,2.00],[7.38,1.60,1.19],[7.50,0.75,0.56],
[7.65,3.80,2.81],[7.80,1.20,0.89],[7.95,5.20,3.84],[8.10,2.20,1.63],[8.25,0.90,0.67],[8.40,1.50,1.11],[8.55,3.20,2.36],
[8.70,6.50,4.80],[8.85,1.05,0.78],[9.00,1.30,1.10],[9.15,2.50,1.85],[9.30,0.80,0.62],[9.50,1.75,1.30],
[2.70,0.62,0.50],[2.90,0.95,0.77],[3.10,0.72,0.58],[3.30,1.15,0.92],[3.50,0.85,0.68],[3.70,0.62,0.49],[3.90,0.98,0.78],
[4.10,0.68,0.53],[4.30,1.05,0.82],[4.50,0.78,0.60],[4.70,0.92,0.70],[4.90,0.66,0.50],[5.10,1.30,0.99],[5.30,0.72,0.54],
[5.50,0.95,0.71],[5.70,1.20,0.90],[5.90,0.80,0.60],[6.10,1.50,1.12],[3.40,1.40,1.12],[3.80,1.60,1.27],[4.20,2.40,1.88],
[4.60,1.90,1.46],[5.00,2.70,2.05],[5.40,1.70,1.28],[3.00,1.15,0.93],[2.60,0.95,0.78],[2.40,0.62,0.51],[3.60,0.55,0.44],
[4.40,0.56,0.44],[5.20,0.55,0.42],[6.00,0.70,0.53],[6.50,0.58,0.44],[7.00,0.85,0.64],[4.80,1.25,0.96],[4.00,1.25,0.99],
[3.20,0.88,0.71],[2.20,0.85,0.71],[2.80,2.10,1.72],
[1.85,0.50,0.41],[2.02,0.58,0.47],[2.14,0.72,0.58],[2.26,0.52,0.42],[2.35,0.95,0.77],[2.46,0.60,0.48],[2.56,0.75,0.60],
[2.64,0.45,0.36],[2.74,0.85,0.68],[2.83,0.55,0.44],[2.92,1.05,0.84],[3.03,0.66,0.53],[3.12,0.80,0.64],[3.22,0.58,0.46],
[3.31,1.30,1.04],[3.42,0.70,0.56],[3.52,0.98,0.78],[3.61,0.64,0.51],[3.72,1.15,0.91],[3.82,0.76,0.60],[3.93,0.88,0.70],
[4.04,1.55,1.22],[4.13,0.62,0.49],[4.24,1.12,0.88],[4.35,0.74,0.58],[4.45,1.40,1.09],[4.55,0.88,0.68],[4.65,0.68,0.53],
[4.76,1.62,1.25],[4.87,0.80,0.62],[4.96,1.05,0.81],[5.08,0.70,0.54],[5.18,1.20,0.92],[5.28,0.90,0.69],[5.38,2.05,1.57],
[5.48,0.62,0.47],[5.62,1.35,1.03],[5.74,0.85,0.64],[5.86,1.10,0.83],[6.02,0.68,0.51],[6.15,1.30,0.98],[6.30,0.95,0.71],
[6.48,2.10,1.57],[6.65,0.75,0.56],[6.85,1.55,1.16],[7.05,0.62,0.47],[7.30,1.15,0.86],[7.60,0.95,0.71],[7.90,1.40,1.04],
[8.30,0.72,0.54],[8.80,1.70,1.26],[9.20,1.10,0.82],
[1.15,0.42,0.36],[1.33,0.50,0.42],[1.47,0.40,0.34],[1.62,0.56,0.47],[1.75,0.38,0.32],[1.92,0.44,0.37],[2.10,0.38,0.32],
[2.32,0.42,0.35],[2.58,0.38,0.32],[2.86,0.42,0.35],[3.14,0.45,0.37],[3.46,0.48,0.39],[3.77,0.44,0.36],[4.08,0.50,0.41],
[4.40,0.46,0.37],[4.72,0.52,0.42],[5.05,0.48,0.39],[5.40,0.56,0.45],[5.80,0.52,0.42],[6.30,0.62,0.50],[6.85,0.55,0.44],
[7.40,0.68,0.54],[8.10,0.60,0.48],[8.90,0.75,0.59],[2.95,0.34,0.29],[3.95,0.36,0.30],[5.55,0.40,0.33],[4.85,0.30,0.27],
[2.45,0.30,0.27],[1.55,0.31,0.27],
[2.20,2.00,1.65],[2.70,2.90,2.35],[3.05,3.10,2.48],[3.35,4.20,3.35],[3.85,6.20,4.90],[4.45,8.40,6.50],[5.25,6.60,5.05],
[5.65,5.00,3.80],[6.05,8.20,6.10],[6.75,7.40,5.50],[7.30,5.60,4.15],[8.20,7.80,5.80],[8.90,4.70,3.50],[9.40,7.40,5.50],
[4.95,4.90,3.75],[3.45,3.30,2.65],[2.85,2.40,1.95],[2.55,1.95,1.60],[4.15,4.00,3.12],[5.95,3.60,2.70]
];

// ---------------- styling ----------------
const FONT = '"Liberation Sans", Arial, Helvetica, sans-serif';
const DARK = '#0c0cbc';
const DARK_TEXT = '#2020cc';
const CYAN = '#22c2f2';
const CYAN_TEXT = '#25bdf0';
const LINE_COLOR = '#1ea6dc';
const TEXT = '#222';
const gridLefts = [80, 363, 647];
const gridTops = [13, 343];
const SIZE = 260;

const subRich = {
  i: {fontStyle: 'italic', fontSize: 16.5, fontFamily: FONT, color: TEXT, lineHeight: 24},
  s: {fontStyle: 'italic', fontSize: 11.5, fontFamily: FONT, color: TEXT, verticalAlign: 'bottom', lineHeight: 11},
  g: {fontStyle: 'italic', fontSize: 16.5, fontFamily: FONT, color: TEXT, lineHeight: 24}
};
const nameStyle = {fontSize: 16.5, fontFamily: FONT, color: TEXT, lineHeight: 24, rich: subRich};

const rows = [
  {range: fywRange, major: fywMajorTicks, minor: fywMinorTicks, data: [fywAlpha05, fywAlpha1, fywAlpha02to2],
   xName: 'Young water fraction {i|F}{s|yw}',
   yName: '{i|F}{s|yw} inferred from {i|A}{s|S}/{i|A}{s|P} and {g|φ}{s|S}-{g|φ}{s|P}'},
  {range: mttRange, major: mttMajorTicks, minor: mttMinorTicks, data: [mttAlpha05, mttAlpha1, mttAlpha02to2],
   xName: 'True mean transit time (MTT, yr)',
   yName: 'MTT inferred from {i|A}{s|S}/{i|A}{s|P} and {g|φ}{s|S}-{g|φ}{s|P}'}
];

function decadeLabel(v) {
  const l = Math.log10(v);
  if (Math.abs(l - Math.round(l)) > 1e-6) return '';
  const e = Math.round(l);
  return e >= 0 ? String(Math.round(Math.pow(10, e))) : Math.pow(10, e).toFixed(-e);
}

function renderTick(params, api) {
  const p = api.coord([api.value(0), api.value(1)]);
  const k = api.value(2);
  const len = (k === 1 || k === 3) ? 8 : 5;
  if (k < 2) {
    return {type: 'line', shape: {x1: p[0], y1: p[1], x2: p[0], y2: p[1] + len}, style: {stroke: '#000', lineWidth: 1.6}};
  }
  return {type: 'line', shape: {x1: p[0], y1: p[1], x2: p[0] - len, y2: p[1]}, style: {stroke: '#000', lineWidth: 1.6}};
}

function arrow(sx, sy, tx, ty, color) {
  const dx = tx - sx, dy = ty - sy, L = Math.hypot(dx, dy), ux = dx / L, uy = dy / L;
  const hl = 10, hw = 4.2;
  const bx = tx - ux * hl, by = ty - uy * hl;
  return [
    {type: 'line', silent: true, z: 20, shape: {x1: sx, y1: sy, x2: bx + ux, y2: by + uy}, style: {stroke: color, lineWidth: 1.8}},
    {type: 'polygon', silent: true, z: 20, shape: {points: [[tx, ty], [bx - uy * hw, by + ux * hw], [bx + uy * hw, by - ux * hw]]}, style: {fill: color}}
  ];
}

const grids = [], xAxes = [], yAxes = [], series = [];
let graphics = [];
let gi = 0;
rows.forEach((row, r) => {
  for (let c = 0; c < 3; c++) {
    const left = gridLefts[c], top = gridTops[r];
    grids.push({left: left, top: top, width: SIZE, height: SIZE, show: true, borderColor: '#000', borderWidth: 2,
                backgroundColor: 'rgba(0,0,0,0)', containLabel: false, outerBoundsMode: 'none'});
    xAxes.push({
      type: 'log', logBase: 10, gridIndex: gi, min: row.range[0], max: row.range[1],
      axisLine: {show: false}, axisTick: {show: false}, splitLine: {show: false},
      minorTick: {show: false}, minorSplitLine: {show: false},
      axisLabel: {show: true, formatter: decadeLabel, fontSize: 16, color: TEXT, fontFamily: FONT, margin: 13,
                  showMinLabel: true, showMaxLabel: true},
      name: row.xName, nameLocation: 'middle', nameGap: 27, nameTextStyle: nameStyle, nameMoveOverlap: false
    });
    yAxes.push({
      type: 'log', logBase: 10, gridIndex: gi, min: row.range[0], max: row.range[1],
      axisLine: {show: false}, axisTick: {show: false}, splitLine: {show: false},
      minorTick: {show: false}, minorSplitLine: {show: false},
      axisLabel: {show: c === 0, formatter: decadeLabel, fontSize: 16, color: TEXT, fontFamily: FONT, margin: 11,
                  showMinLabel: true, showMaxLabel: true},
      name: c === 0 ? row.yName : '', nameLocation: 'middle', nameGap: 47, nameTextStyle: nameStyle, nameMoveOverlap: false
    });
    const pts = row.data[c];
    const mn = row.range[0], mx = row.range[1];
    series.push({type: 'line', xAxisIndex: gi, yAxisIndex: gi, data: [[mn, mn], [mx, mx]], symbol: 'none',
                 lineStyle: {color: LINE_COLOR, width: 2}, silent: true, z: 2});
    series.push({type: 'scatter', xAxisIndex: gi, yAxisIndex: gi, data: pts.map(p => [p[0], p[2]]),
                 symbol: 'circle', symbolSize: 4.8, itemStyle: {color: CYAN, opacity: 1}, silent: true, z: 3});
    series.push({type: 'scatter', xAxisIndex: gi, yAxisIndex: gi, data: pts.map(p => [p[0], p[1]]),
                 symbol: 'circle', symbolSize: 4.8, itemStyle: {color: DARK, opacity: 1}, silent: true, z: 4});
    const tickData = [];
    row.minor.forEach(v => { tickData.push([v, mn, 0]); tickData.push([mn, v, 2]); });
    row.major.forEach(v => { tickData.push([v, mn, 1]); tickData.push([mn, v, 3]); });
    series.push({type: 'custom', xAxisIndex: gi, yAxisIndex: gi, data: tickData, renderItem: renderTick,
                 encode: {x: 0, y: 1}, clip: false, silent: true, z: 6});

    graphics.push({type: 'text', x: left + 12, y: top + 16, silent: true, z: 20,
      style: {text: 'Shape factor {a|α} = ' + shapeFactors[c], fill: DARK_TEXT, fontSize: 16, fontFamily: FONT,
              verticalAlign: 'middle', align: 'left',
              rich: {a: {fill: DARK_TEXT, fontSize: 18, fontStyle: 'italic', fontFamily: '"Liberation Serif", "DejaVu Serif", serif'}}}});
    graphics.push({type: 'text', x: left + 111, y: top + 50, silent: true, z: 20,
      style: {text: '1:1 line', fill: CYAN_TEXT, fontSize: 16, fontFamily: FONT, verticalAlign: 'middle', align: 'left'}});
    graphics = graphics.concat(arrow(left + 147, top + 63, left + 170, top + 86, CYAN_TEXT));
    if (r === 0) {
      graphics.push({type: 'text', x: left + 12, y: top + 93, silent: true, z: 20,
        style: {text: '(RMSE=' + rmseLabels[c] + ')', fill: DARK_TEXT, fontSize: 16, fontFamily: FONT, verticalAlign: 'middle', align: 'left'}});
    }
    graphics.push({type: 'text', x: left + 253, y: top + 244, silent: true, z: 20,
      style: {text: panelLetters[r][c], fill: TEXT, fontSize: 17, fontFamily: FONT, verticalAlign: 'middle', align: 'right'}});
    gi++;
  }
});

const chart = echarts.init(document.getElementById('c'), null, {renderer: 'canvas', width: 914, height: 652});
chart.setOption({
  animation: false,
  backgroundColor: '#fff',
  textStyle: {fontFamily: FONT},
  grid: grids, xAxis: xAxes, yAxis: yAxes, series: series,
  graphic: {elements: graphics}
});
</script>
</body></html>
